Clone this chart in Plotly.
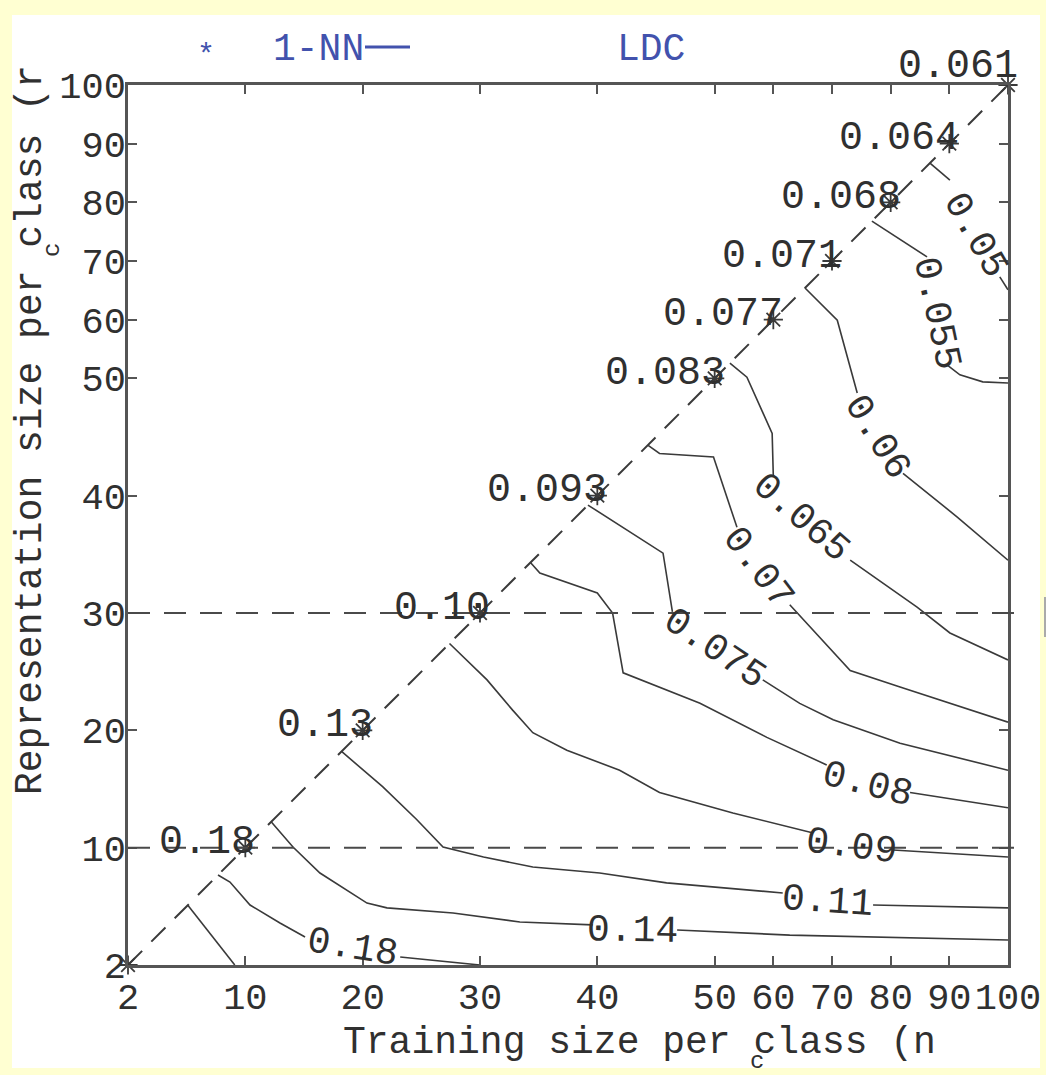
import numpy as np
import plotly.graph_objects as go

# ---------------- data ----------------
# sampling grid of the experiment (axis positions are evenly spaced per grid step)
GRID = [2, 5, 10, 15, 20, 25, 30, 35, 40, 45, 50, 60, 70, 80, 90, 100]
TICKS = [2, 10, 20, 30, 40, 50, 60, 70, 80, 90, 100]

# 1-NN error on the diagonal (training size = representation size)
NN_SIZES = [2, 10, 20, 30, 40, 50, 60, 70, 80, 90, 100]
NN_LABELS = ["", "0.18", "0.13", "0.10", "0.093", "0.083", "0.077", "0.071", "0.068", "0.064", "0.061"]

# LDC error contour lines, points as (n_c, r_c); None marks the gap under the label
C_023 = [(5.1, 5.1), (9.1, 2.0)]
C_018 = [(7.67, 7.67), (8.69, 7.07), (10.4, 5.11), (12.95, 4.15), (15.09, 3.43), None,
         (23.2, 2.41), (30.0, 2.0)]
C_014 = [(12.2, 12.2), (14.06, 10.06), (16.36, 7.84), (18.67, 6.39), (20.37, 5.28), (22.07, 4.92),
         (27.7, 4.66), (33.4, 4.2), (39.6, 4.05), None, (46.8, 3.79), (62.8, 3.53), (100, 3.28)]
C_011 = [(18.2, 18.2), (21.7, 15.2), (24.6, 12.4), (26.85, 10.06), (30.3, 9.2), (34.5, 8.35),
         (40.2, 7.84), (45.9, 7.0), (61.6, 6.14), None, (77.0, 5.11), (100, 4.92)]
C_009 = [(27.4, 27.4), (30.6, 24.3), (32.8, 21.7), (34.5, 19.8), (37.4, 18.3), (41.9, 16.6),
         (45.3, 14.7), (53.1, 12.95), (66.8, 11.25), None, (80.4, 9.8), (100, 9.2)]
C_008 = [(34.3, 34.3), (35.1, 33.4), (40.0, 31.7), (41.3, 30.0), (42.2, 24.9), (48.75, 22.3),
         (58.9, 19.4), (69.1, 17.05), None, (83.3, 14.7), (100, 13.4)]
C_0075 = [(39.2, 39.2), (45.6, 35.1), (46.4, 30.1), None, (58.2, 24.3), (64.5, 22.3),
          (70.2, 20.9), (81.6, 18.9), (100, 16.6)]
C_007 = [(44.3, 44.3), (45.3, 43.6), (49.9, 43.3), (53.8, 37.3), None, (62.8, 30.7),
         (73.1, 25.1), (81.6, 23.7), (100, 20.7)]
C_0065 = [(52.6, 52.6), (55.5, 50.2), (59.8, 45.3), (60.0, 41.6), None, (73.1, 34.5),
          (84.5, 30.5), (90.1, 28.3), (100, 26.0)]
C_006 = [(65.4, 65.4), (70.9, 59.9), (74.3, 48.75), None, (82.1, 41.9), (91.3, 38.2), (100, 34.5)]
C_0055 = [(76.8, 76.8), (86.2, 70.7), None, (89.6, 52.3), (91.8, 50.6), (95.7, 49.7), (100, 49.6)]
C_005 = [(86.7, 86.7), (90.1, 83.8), None, (98.6, 67.3), (100, 65.1)]
CONTOURS = [C_023, C_018, C_014, C_011, C_009, C_008, C_0075, C_007, C_0065, C_006, C_0055, C_005]

# contour labels
LABEL_TEXT = ["0.18", "0.14", "0.11", "0.09", "0.08", "0.075", "0.07", "0.065", "0.06", "0.055", "0.05"]
LABEL_N = [19.1, 43.0, 69.3, 73.4, 76.1, 50.0, 57.4, 64.7, 77.8, 87.9, 94.5]
LABEL_R = [2.87, 3.79, 5.45, 10.1, 15.4, 27.0, 33.9, 38.1, 45.0, 61.1, 74.4]
LABEL_ANGLE = [9, 1, 4, 7, 14, 34, 53, 41, 58, 78, 60]

# horizontal reference lines
HLINES_R = [30, 10]

# ---------------- helpers ----------------
IDX = np.arange(len(GRID))


def ix(v):
    return float(np.interp(v, GRID, IDX))


FONT = "Liberation Mono, Courier New, monospace"
TXT = "#303030"
LINE = "#3a3a3a"
BLUE = "#4252ad"
W, H = 1046, 1075
L, R, T, B = 128, 38, 85, 110
PW, PH = W - L - R, H - T - B


def px2paper(px, py):
    return (px - L) / PW, (H - B - py) / PH


fig = go.Figure()

# contour lines
for c in CONTOURS:
    xs = [None if p is None else ix(p[0]) for p in c]
    ys = [None if p is None else ix(p[1]) for p in c]
    fig.add_trace(go.Scatter(x=xs, y=ys, mode="lines", connectgaps=False,
                             line=dict(color=LINE, width=1.6),
                             hoverinfo="skip", showlegend=False))

# diagonal 1-NN line with stars
fig.add_trace(go.Scatter(x=[ix(s) for s in NN_SIZES], y=[ix(s) for s in NN_SIZES],
                         mode="lines+markers", cliponaxis=False,
                         line=dict(color=LINE, width=2, dash="20px,13px"),
                         marker=dict(symbol="asterisk-open", size=16,
                                     line=dict(color="#1a1a1a", width=1.8)),
                         hoverinfo="skip", showlegend=False))

shapes = []
for r in HLINES_R:
    yp = ix(r) / (len(GRID) - 1)
    shapes.append(dict(type="line", xref="paper", yref="paper", x0=0, x1=1.016, y0=yp, y1=yp,
                       line=dict(color="#4a4a4a", width=2, dash="22px,14px"), layer="above"))

# white panel on the pale-yellow page
x0, y0 = px2paper(12, 1068)
x1, y1 = px2paper(1040, 15)
shapes.insert(0, dict(type="rect", xref="paper", yref="paper", x0=x0, x1=x1, y0=y0, y1=y1,
                      fillcolor="white", line=dict(width=0), layer="below"))
# small mark at the right border
a, b1 = px2paper(1045, 597)
_, b2 = px2paper(1045, 637)
shapes.append(dict(type="line", xref="paper", yref="paper", x0=a, x1=a, y0=b1, y1=b2,
                   line=dict(color="#aaaaaa", width=2)))
# legend line
lx0, ly = px2paper(365, 47)
lx1, _ = px2paper(410, 47)
shapes.append(dict(type="line", xref="paper", yref="paper", x0=lx0, x1=lx1, y0=ly, y1=ly,
                   line=dict(color=BLUE, width=3)))

ann = []
# diagonal labels
for s, t in zip(NN_SIZES, NN_LABELS):
    if not t:
        continue
    ann.append(dict(x=ix(s), y=ix(s), xref="x", yref="y", text=t, showarrow=False,
                    xanchor="right", yanchor="middle", xshift=12,
                    yshift=19 if s == 100 else 5,
                    font=dict(family=FONT, size=40, color=TXT)))
# contour labels
for t, n, r, a_ in zip(LABEL_TEXT, LABEL_N, LABEL_R, LABEL_ANGLE):
    ann.append(dict(x=ix(n), y=ix(r), xref="x", yref="y", text=t, showarrow=False,
                    textangle=a_, xanchor="center", yanchor="middle",
                    font=dict(family=FONT, size=38, color=TXT)))


def paper_text(txt, px, py, size, color=TXT, angle=0):
    xp, yp = px2paper(px, py)
    ann.append(dict(x=xp, y=yp, xref="paper", yref="paper", text=txt, showarrow=False,
                    xanchor="center", yanchor="middle", textangle=angle,
                    font=dict(family=FONT, size=size, color=color)))


# axis titles
paper_text("Training size per class (n", 639, 1042, 38)
paper_text("c", 757, 1061, 24)
paper_text("Representation size per class (r", 30, 430, 38, angle=-90)
paper_text("c", 52, 250, 24, angle=-90)

# legend
paper_text("*", 206, 56, 30, BLUE)
paper_text("1-NN", 318, 50, 38, BLUE)
paper_text("LDC", 651, 50, 38, BLUE)

axis_common = dict(range=[0, len(GRID) - 1], tickvals=[ix(t) for t in TICKS],
                   ticktext=[str(t) for t in TICKS], ticks="inside", ticklen=9, tickwidth=1.5,
                   tickcolor="#555", showline=True, linecolor="#555", linewidth=2.5,
                   mirror="ticks", showgrid=False, zeroline=False, automargin=False,
                   tickfont=dict(family=FONT, size=37, color=TXT))

fig.update_layout(width=W, height=H, autosize=False,
                  margin=dict(l=L, r=R, t=T, b=B, autoexpand=False),
                  paper_bgcolor="#FFFFD2", plot_bgcolor="white",
                  xaxis=dict(axis_common, ticklabelstandoff=-3),
                  yaxis=dict(axis_common, ticklabelstandoff=-8),
                  shapes=shapes, annotations=ann, showlegend=False)

fig.write_html("out.html",
               config={"displayModeBar": False, "responsive": False},
               post_script="document.body.style.margin='0';"
                           "document.body.style.overflow='hidden';")
